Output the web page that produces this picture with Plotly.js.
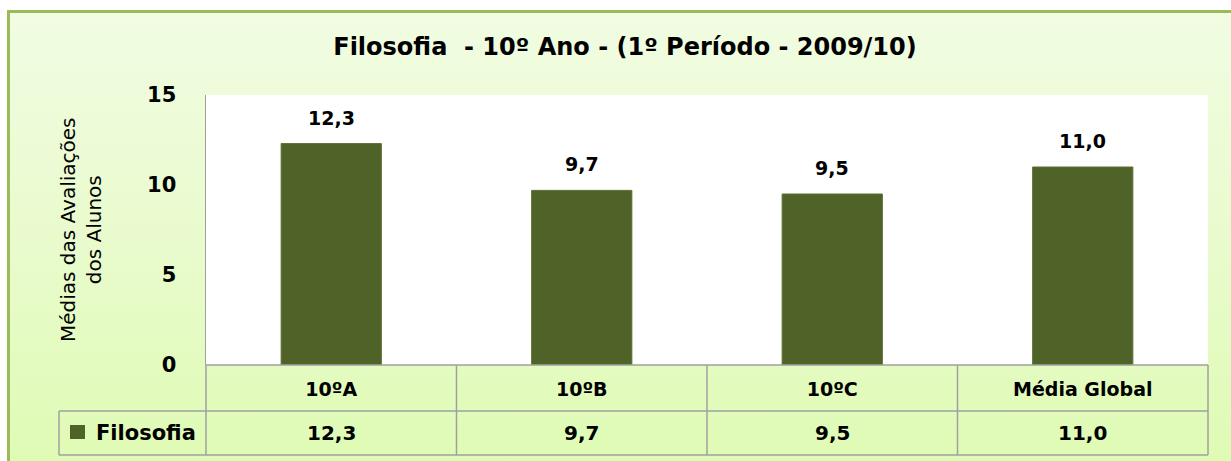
<!DOCTYPE html>
<html>
<head>
<meta charset="utf-8">
<script src="https://cdn.plot.ly/plotly-3.0.1.min.js"></script>
<style>
  html, body { margin: 0; padding: 0; background: #ffffff; }
  #wrap { position: relative; width: 1231px; height: 461px; overflow: hidden; background: #ffffff; }
  #bg { position: absolute; left: 7px; top: 10px; width: 1300px; height: 500px;
        border-left: 3px solid #9BBB59; border-top: 3px solid #9BBB59;
        background: linear-gradient(to bottom, #F1FCE2 0%, #E8FBCB 50%, #DCFBAE 100%); }
  #chart { position: absolute; left: 0; top: 0; width: 1231px; height: 461px; }
</style>
</head>
<body>
<div id="wrap">
  <div id="bg"></div>
  <div id="chart"></div>
</div>
<script>
const categories = ['10ºA', '10ºB', '10ºC', 'Média Global'];
const values = [12.3, 9.7, 9.5, 11.0];
const seriesName = 'Filosofia';
const yTicks = [0, 5, 10, 15];

const FONT = '"DejaVu Sans", Verdana, sans-serif';
const barColor = '#4F6228';
const lineColor = '#A0A0A0';

const fmt = v => v.toFixed(1).replace('.', ',');

const n = categories.length;
const rowTop = 0, rowMid = -46 / 270, rowBot = -90 / 270;
const legendLeft = (59 - 206) / 1002;

const shapes = [];
[rowTop, rowMid, rowBot].forEach((y, i) => {
  shapes.push({type: 'line', xref: 'paper', yref: 'paper',
    x0: i === 0 ? 0 : legendLeft, x1: 1, y0: y, y1: y,
    line: {color: lineColor, width: 1.5}});
});
for (let i = 0; i <= n; i++) {
  shapes.push({type: 'line', xref: 'paper', yref: 'paper',
    x0: i / n, x1: i / n, y0: rowTop, y1: rowBot,
    line: {color: lineColor, width: 1.5}});
}
shapes.push({type: 'line', xref: 'paper', yref: 'paper',
  x0: legendLeft, x1: legendLeft, y0: rowMid, y1: rowBot,
  line: {color: lineColor, width: 1.5}});
shapes.push({type: 'rect', xref: 'paper', yref: 'paper',
  x0: (70 - 206) / 1002, x1: (85 - 206) / 1002,
  y0: (365 - 425) / 270, y1: (365 - 439) / 270,
  fillcolor: barColor, line: {width: 0}});

const annotations = [];
categories.forEach((c, i) => {
  annotations.push({x: c, y: values[i], xref: 'x', yref: 'y', text: fmt(values[i]),
    showarrow: false, yanchor: 'bottom', yshift: 13,
    font: {family: FONT, size: 19, color: '#000', weight: 700}});
  annotations.push({x: c, y: (rowMid + rowBot) / 2, xref: 'x', yref: 'paper', text: fmt(values[i]),
    showarrow: false, yanchor: 'middle',
    font: {family: FONT, size: 20, color: '#000', weight: 700}});
});
annotations.push({x: (94 - 206) / 1002, y: (rowMid + rowBot) / 2, xref: 'paper', yref: 'paper',
  text: seriesName, showarrow: false, xanchor: 'left', yanchor: 'middle',
  font: {family: FONT, size: 21, color: '#000', weight: 700}});
annotations.push({x: (81 - 206) / 1002, y: 0.5, xref: 'paper', yref: 'paper',
  text: 'Médias das Avaliações<br>dos Alunos', textangle: -90, showarrow: false,
  xanchor: 'center', yanchor: 'middle',
  font: {family: FONT, size: 20, color: '#000'}});

const trace = {
  type: 'bar', x: categories, y: values, name: seriesName,
  marker: {color: barColor, line: {color: '#5A6E30', width: 1}},
  width: 0.4, hoverinfo: 'skip'
};

const layout = {
  width: 1231, height: 461,
  margin: {l: 206, r: 23, t: 95, b: 96, pad: 0},
  paper_bgcolor: 'rgba(0,0,0,0)',
  plot_bgcolor: '#ffffff',
  showlegend: false,
  title: {text: 'Filosofia&nbsp; - 10º Ano - (1º Período - 2009/10)',
    x: 625 / 1231, xanchor: 'center', y: 1 - 47 / 461, yanchor: 'middle',
    font: {family: FONT, size: 24, color: '#000', weight: 700}},
  xaxis: {type: 'category', showgrid: false, zeroline: false, showline: false,
    ticks: '', tickfont: {family: FONT, size: 19, color: '#000', weight: 700},
    ticklabelstandoff: 11, fixedrange: true},
  yaxis: {range: [0, 15], tickvals: yTicks, ticktext: yTicks.map(String),
    showgrid: false, zeroline: false, showline: true, linecolor: lineColor, linewidth: 1.5,
    ticks: '', tickfont: {family: FONT, size: 21, color: '#000', weight: 700},
    ticklabelstandoff: 24, fixedrange: true},
  shapes: shapes,
  annotations: annotations
};

Plotly.newPlot('chart', [trace], layout, {displayModeBar: false, staticPlot: true});
</script>
</body>
</html>
